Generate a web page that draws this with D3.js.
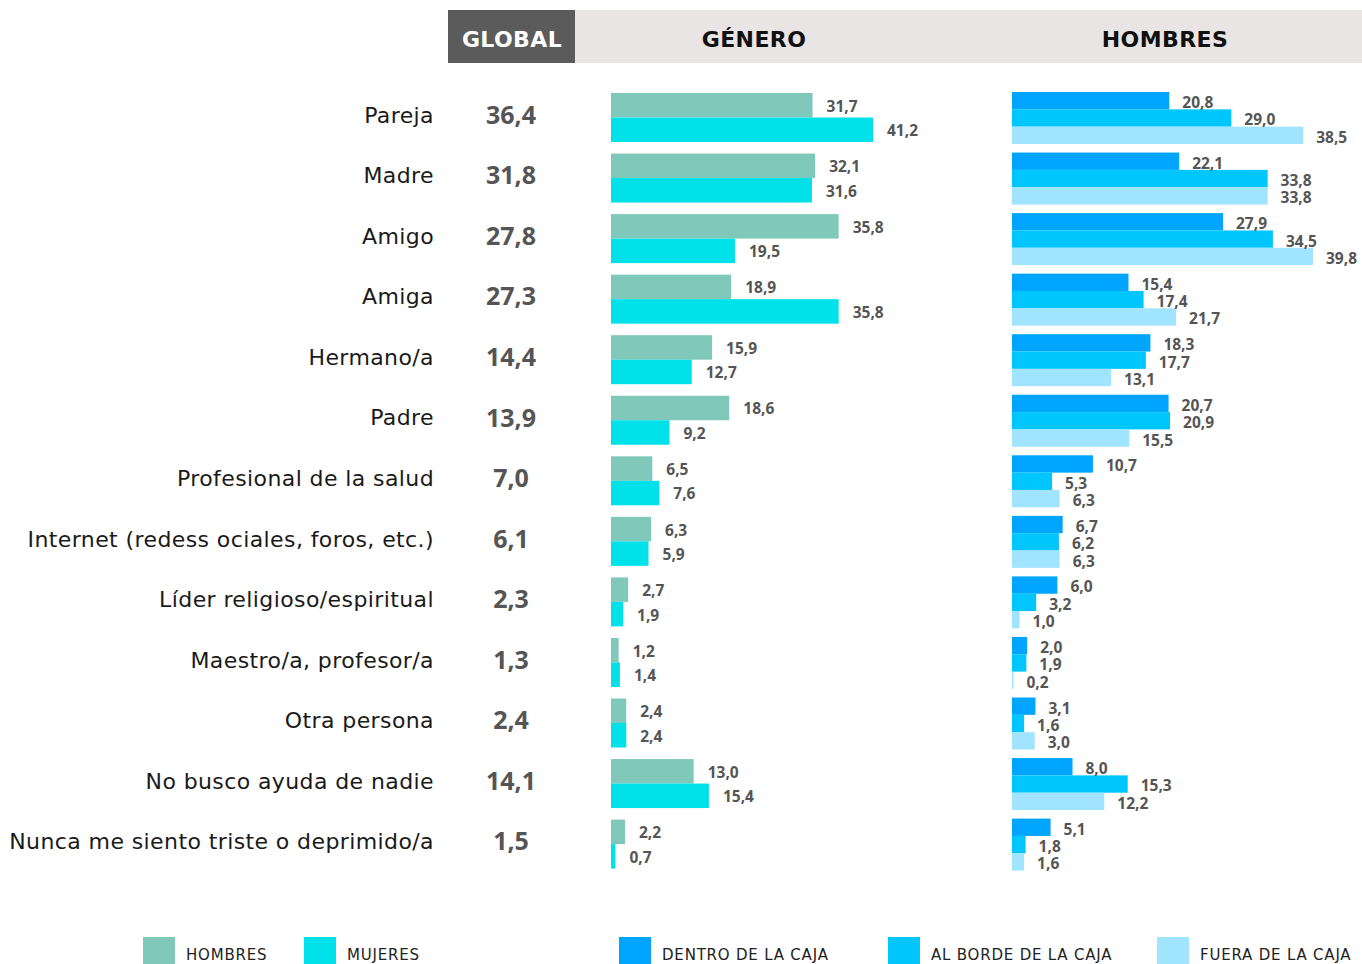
<!DOCTYPE html>
<html>
<head>
<meta charset="utf-8">
<script src="https://cdn.jsdelivr.net/npm/d3@7"></script>
<style>
  body { margin: 0; background: #fff; }
  svg text { font-family: "Noto Sans", "Open Sans", sans-serif; }
  svg text.wide { font-family: "DejaVu Sans", sans-serif; }
</style>
</head>
<body>
<div id="chart"></div>
<script>
// categories and values
const categories = [
  "Pareja", "Madre", "Amigo", "Amiga", "Hermano/a", "Padre",
  "Profesional de la salud", "Internet (redess ociales, foros, etc.)",
  "Líder religioso/espiritual", "Maestro/a, profesor/a", "Otra persona",
  "No busco ayuda de nadie", "Nunca me siento triste o deprimido/a"
];
const globalValues = [36.4, 31.8, 27.8, 27.3, 14.4, 13.9, 7.0, 6.1, 2.3, 1.3, 2.4, 14.1, 1.5];
const hombres = [31.7, 32.1, 35.8, 18.9, 15.9, 18.6, 6.5, 6.3, 2.7, 1.2, 2.4, 13.0, 2.2];
const mujeres = [41.2, 31.6, 19.5, 35.8, 12.7, 9.2, 7.6, 5.9, 1.9, 1.4, 2.4, 15.4, 0.7];
const dentro = [20.8, 22.1, 27.9, 15.4, 18.3, 20.7, 10.7, 6.7, 6.0, 2.0, 3.1, 8.0, 5.1];
const borde = [29.0, 33.8, 34.5, 17.4, 17.7, 20.9, 5.3, 6.2, 3.2, 1.9, 1.6, 15.3, 1.8];
const fuera = [38.5, 33.8, 39.8, 21.7, 13.1, 15.5, 6.3, 6.3, 1.0, 0.2, 3.0, 12.2, 1.6];

const genderSeries = ["HOMBRES", "MUJERES"];
const boxSeries = ["DENTRO DE LA CAJA", "AL BORDE DE LA CAJA", "FUERA DE LA CAJA"];

window.onload = init;

function init()
{
    const width = 1362;
    const height = 964;
    const svg = d3.select('#chart').append('svg').attr('width', width).attr('height', height);

    const fmt = v => d3.format('.1f')(v).replace('.', ',');
    const labelGray = '#555';

    const genderColor = d3.scaleOrdinal().domain(genderSeries).range(['#80c9ba', '#00e1ea']);
    const boxColor = d3.scaleOrdinal().domain(boxSeries).range(['#00a5ff', '#00c6ff', '#a0e4ff']);

    // rows
    const rowStep = 60.55;
    const row = d3.scaleBand().domain(categories).range([93, 93 + rowStep * categories.length]).paddingInner(0).paddingOuter(0);

    // header
    svg.append('rect').attr('x', 448).attr('y', 10).attr('width', width - 448).attr('height', 53).attr('fill', '#e9e5e4');
    svg.append('rect').attr('x', 448).attr('y', 10).attr('width', 127).attr('height', 53).attr('fill', '#5b5b5b');
    const heads = [
        {t: 'GLOBAL', x: 512, c: '#fff'},
        {t: 'GÉNERO', x: 754, c: '#111'},
        {t: 'HOMBRES', x: 1165, c: '#111'}
    ];
    svg.append('g').selectAll('text').data(heads).enter().append('text')
        .attr('class', 'wide')
        .attr('x', d => d.x).attr('y', 47).attr('text-anchor', 'middle')
        .attr('fill', d => d.c).attr('font-size', 22).attr('font-weight', 700)
        .attr('letter-spacing', 0.4).text(d => d.t);

    // category labels and global value
    const labels = svg.append('g');
    labels.selectAll('text.cat').data(categories).enter().append('text')
        .attr('class', 'cat wide')
        .attr('x', 434)
        .attr('y', d => row(d) + 22)
        .attr('dy', '0.35em')
        .attr('text-anchor', 'end')
        .attr('fill', '#1a1a1a')
        .attr('font-size', 22)
        .attr('letter-spacing', 0.4)
        .text(d => d);
    labels.selectAll('text.glob').data(globalValues).enter().append('text')
        .attr('class', 'glob')
        .attr('x', 511)
        .attr('y', (d, i) => row(categories[i]) + 22)
        .attr('dy', '0.35em')
        .attr('text-anchor', 'middle')
        .attr('fill', labelGray)
        .attr('font-size', 25)
        .attr('font-weight', 700)
        .text(d => fmt(d));

    // gender panel
    const xg = d3.scaleLinear().domain([0, 41.2]).range([611, 873]);
    const gInner = d3.scaleBand().domain(genderSeries).range([0, 49]);
    const genderData = [];
    categories.forEach((c, i) => {
        genderData.push({cat: c, key: 'HOMBRES', value: hombres[i]});
        genderData.push({cat: c, key: 'MUJERES', value: mujeres[i]});
    });
    const gp = svg.append('g');
    gp.selectAll('rect').data(genderData).enter().append('rect')
        .attr('x', xg(0))
        .attr('y', d => row(d.cat) + gInner(d.key))
        .attr('width', d => xg(d.value) - xg(0))
        .attr('height', gInner.bandwidth())
        .attr('fill', d => genderColor(d.key));
    gp.selectAll('text').data(genderData).enter().append('text')
        .attr('x', d => xg(d.value) + 14)
        .attr('y', d => row(d.cat) + gInner(d.key) + gInner.bandwidth() / 2 + 1)
        .attr('dy', '0.35em')
        .attr('fill', labelGray)
        .attr('font-size', 15.5)
        .attr('font-weight', 700)
        .text(d => fmt(d.value));

    // box panel
    const xb = d3.scaleLinear().domain([0, 39.8]).range([1012, 1313]);
    const bInner = d3.scaleBand().domain(boxSeries).range([-1, 51]);
    const seriesValues = [dentro, borde, fuera];
    const boxData = [];
    categories.forEach((c, i) => {
        boxSeries.forEach((k, j) => boxData.push({cat: c, key: k, value: seriesValues[j][i]}));
    });
    const bp = svg.append('g');
    bp.selectAll('rect').data(boxData).enter().append('rect')
        .attr('x', xb(0))
        .attr('y', d => row(d.cat) + bInner(d.key))
        .attr('width', d => xb(d.value) - xb(0))
        .attr('height', bInner.bandwidth())
        .attr('fill', d => boxColor(d.key));
    bp.selectAll('text').data(boxData).enter().append('text')
        .attr('x', d => xb(d.value) + 13)
        .attr('y', d => row(d.cat) + bInner(d.key) + bInner.bandwidth() / 2 + 2)
        .attr('dy', '0.35em')
        .attr('fill', labelGray)
        .attr('font-size', 15.5)
        .attr('font-weight', 700)
        .text(d => fmt(d.value));

    // legend
    const legendItems = [
        {name: 'HOMBRES', color: genderColor('HOMBRES'), x: 143},
        {name: 'MUJERES', color: genderColor('MUJERES'), x: 304},
        {name: 'DENTRO DE LA CAJA', color: boxColor('DENTRO DE LA CAJA'), x: 619},
        {name: 'AL BORDE DE LA CAJA', color: boxColor('AL BORDE DE LA CAJA'), x: 888},
        {name: 'FUERA DE LA CAJA', color: boxColor('FUERA DE LA CAJA'), x: 1157}
    ];
    const lg = svg.append('g').selectAll('g').data(legendItems).enter().append('g');
    lg.append('rect').attr('x', d => d.x).attr('y', 937).attr('width', 32).attr('height', 27).attr('fill', d => d.color);
    lg.append('text').attr('class', 'wide').attr('x', d => d.x + 43).attr('y', 960)
        .attr('fill', '#222').attr('font-size', 15).attr('letter-spacing', 0.8).text(d => d.name);
}
</script>
</body>
</html>
